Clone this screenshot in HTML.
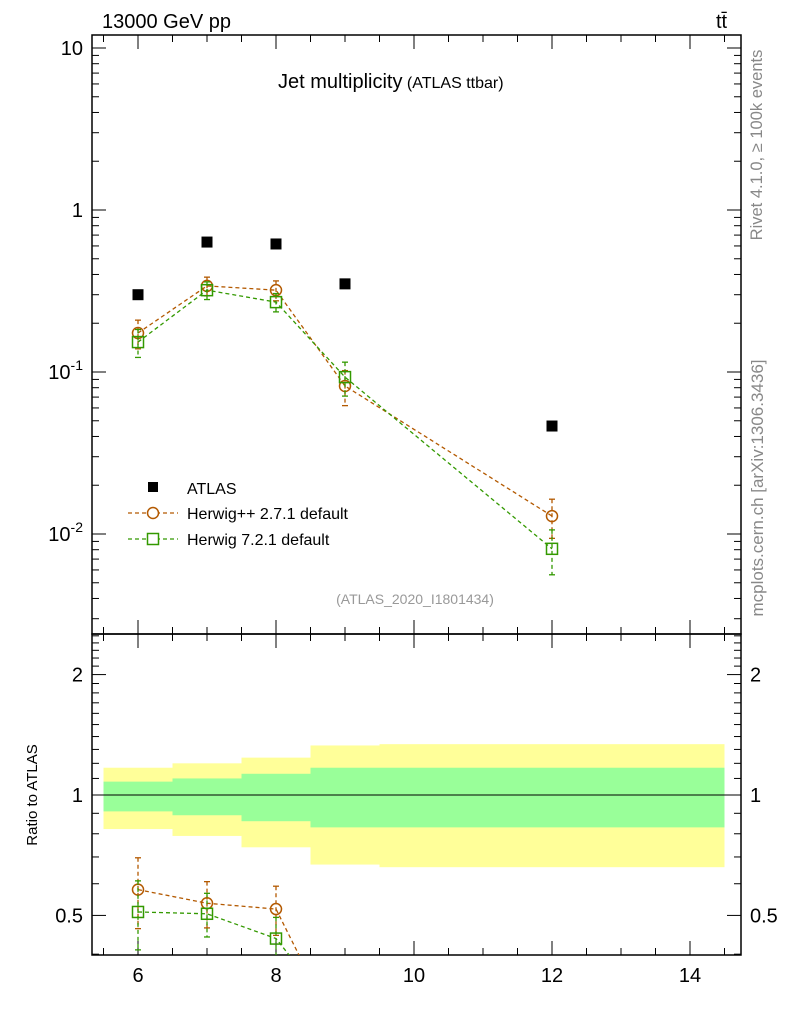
<!DOCTYPE html>
<html><head><meta charset="utf-8"><style>
html,body{margin:0;background:#fff;width:786px;height:1024px;overflow:hidden;}
svg{display:block;font-family:"Liberation Sans",sans-serif;}
</style></head><body>
<svg id="c" width="786" height="1024"></svg>
<script>
const cats=[6,7,8,9,12];
const atlas=[0.30,0.634,0.617,0.35,0.0464];
const hwpp=[0.174,0.34,0.32,0.082,0.0129];
const hwpp_err=[0.035,0.045,0.045,0.02,0.0035];
const hw7=[0.153,0.32,0.27,0.093,0.0081];
const hw7_err=[0.03,0.04,0.035,0.022,0.0025];
const binEdges=[5.5,6.5,7.5,8.5,9.5,14.5];
const yellowHi=[1.17,1.2,1.24,1.33,1.34];
const yellowLo=[0.822,0.79,0.74,0.67,0.66];
const greenHi=[1.08,1.10,1.13,1.17,1.17];
const greenLo=[0.91,0.89,0.86,0.83,0.83];
const xTicks=[6,8,10,12,14];
const mainTicks=[[10,"10"],[1,"1"],[0.1,"10^-1"],[0.01,"10^-2"]];
const ratioTicks=[0.5,1,2];

const NS="http://www.w3.org/2000/svg",svg=document.getElementById('c');
function el(t,a,p){const e=document.createElementNS(NS,t);for(const k in a)e.setAttribute(k,a[k]);(p||svg).appendChild(e);return e;}
const L=92,R=741,T=35,M=634,B=955;
const X=v=>138+(v-6)*69;
const Y=v=>210-Math.log10(v)*162;
const YR=v=>795-Math.log10(v)*400;

for(let i=0;i<5;i++){
 const x0=X(binEdges[i]),x1=X(binEdges[i+1]);
 let r=el('rect',{x:x0,y:YR(yellowHi[i]),width:x1-x0,height:YR(yellowLo[i])-YR(yellowHi[i]),fill:'#ffff99'});
 
 r=el('rect',{x:x0,y:YR(greenHi[i]),width:x1-x0,height:YR(greenLo[i])-YR(greenHi[i]),fill:'#99ff99'});
 
}
el('line',{x1:L,x2:R,y1:YR(1),y2:YR(1),stroke:'#000','stroke-width':1});

el('rect',{x:L,y:T,width:R-L,height:M-T,fill:'none',stroke:'#000','stroke-width':1.5});
el('rect',{x:L,y:M,width:R-L,height:B-M,fill:'none',stroke:'#000','stroke-width':1.5});

for(let v=5.5;v<=14.6;v+=0.5){
 const maj=Number.isInteger(v)&&v%2==0, len=maj?14:7;
 for(const [y0,dir] of [[M,-1],[B,-1],[T,1],[M,1]]){
  el('line',{x1:X(v),x2:X(v),y1:y0,y2:y0+dir*len,stroke:'#000'});
 }
}
xTicks.forEach(v=>{const t=el('text',{x:X(v),y:982,'font-size':20,'text-anchor':'middle'});t.textContent=v;
});

for(let d=-3;d<=1;d++)for(let m=1;m<10;m++){
 const v=m*Math.pow(10,d),y=Y(v);if(y<T||y>M)continue;
 const len=m==1?14:7;
 el('line',{x1:L,x2:L+len,y1:y,y2:y,stroke:'#000'});el('line',{x1:R,x2:R-len,y1:y,y2:y,stroke:'#000'});
}
mainTicks.forEach(([v,s])=>{const t=el('text',{x:83,y:Y(v)+7,'font-size':20,'text-anchor':'end'});
 if(s.includes('^')){const p=s.split('^');t.textContent=p[0];const ts=el('tspan',{dy:-9,'font-size':14},t);ts.textContent=p[1];}else t.textContent=s;
 });

for(let v=0.4;v<2.6;v+=0.1){const y=YR(v);if(y<M||y>B)continue;
 const maj=[0.5,1,2].some(q=>Math.abs(q-v)<1e-6),len=maj?14:7;
 el('line',{x1:L,x2:L+len,y1:y,y2:y,stroke:'#000'});el('line',{x1:R,x2:R-len,y1:y,y2:y,stroke:'#000'});}
ratioTicks.forEach(v=>{let t=el('text',{x:83,y:YR(v)+7,'font-size':20,'text-anchor':'end'});t.textContent=v;

t=el('text',{x:750,y:YR(v)+7,'font-size':20});t.textContent=v;
});

function series(vals,errs,col,shape,name,yf,clip){
 const g=el('g',{'clip-path':clip});
 const pts=cats.map((c,i)=>X(c)+','+yf(vals[i],i)).join(' ');
 el('polyline',{points:pts,fill:'none',stroke:col,'stroke-width':1.3,'stroke-dasharray':'4,3'},g);
 cats.forEach((c,i)=>{const x=X(c),y=yf(vals[i],i),y1=yf(vals[i]+errs[i],i),y2=yf(vals[i]-errs[i],i);
  el('line',{x1:x,x2:x,y1:y1,y2:y2,stroke:col,'stroke-width':1.3,'stroke-dasharray':'4,3'},g);
  el('line',{x1:x-3,x2:x+3,y1:y1,y2:y1,stroke:col,'stroke-width':1.3},g);
  el('line',{x1:x-3,x2:x+3,y1:y2,y2:y2,stroke:col,'stroke-width':1.3},g);
  const m=shape=='c'?el('circle',{cx:x,cy:y,r:5.5,fill:'none',stroke:col,'stroke-width':1.5},g):el('rect',{x:x-5.5,y:y-5.5,width:11,height:11,fill:'none',stroke:col,'stroke-width':1.5},g);
  });
}
const defs=el('defs',{});
el('rect',{x:L,y:T,width:R-L,height:M-T},el('clipPath',{id:'cm'},defs));
el('rect',{x:L,y:M,width:R-L,height:B-M},el('clipPath',{id:'cr'},defs));
series(hwpp,hwpp_err,'#b35900','c','herwigpp-series',v=>Y(v),'url(#cm)');
series(hw7,hw7_err,'#339900','s','herwig7-series',v=>Y(v),'url(#cm)');
series(hwpp.map((v,i)=>v/atlas[i]),hwpp_err.map((v,i)=>v/atlas[i]),'#b35900','c','herwigpp-ratio',v=>YR(v),'url(#cr)');
series(hw7.map((v,i)=>v/atlas[i]),hw7_err.map((v,i)=>v/atlas[i]),'#339900','s','herwig7-ratio',v=>YR(v),'url(#cr)');
cats.forEach((c,i)=>{const r=el('rect',{x:X(c)-5.5,y:Y(atlas[i])-5.5,width:11,height:11,fill:'#000'});
});

function tx(x,y,s,sz,attrs,name){const t=el('text',Object.assign({x:x,y:y,'font-size':sz},attrs||{}));t.textContent=s;return t;}
el('rect',{x:148,y:482,width:10,height:10,fill:'#000'});
tx(187,494,'ATLAS',16,{},'legend-atlas');
el('line',{x1:128,x2:178,y1:513,y2:513,stroke:'#b35900','stroke-dasharray':'4,3','stroke-width':1.3});
el('circle',{cx:153,cy:513,r:5.5,fill:'#fff',stroke:'#b35900','stroke-width':1.5});
tx(187,519,'Herwig++ 2.7.1 default',16,{},'legend-herwigpp');
el('line',{x1:128,x2:178,y1:539,y2:539,stroke:'#339900','stroke-dasharray':'4,3','stroke-width':1.3});
el('rect',{x:147.5,y:533.5,width:11,height:11,fill:'#fff',stroke:'#339900','stroke-width':1.5});
tx(187,545,'Herwig 7.2.1 default',16,{},'legend-herwig7');

tx(102,28,'13000 GeV pp',20,{},'beam-label');
tx(716,28,'tt̄',20,{},'process-label');
const ti=tx(278,88,'Jet multiplicity',20,{},'plot-title');const ts=el('tspan',{'font-size':16},ti);ts.textContent=' (ATLAS ttbar)';
tx(415,604,'(ATLAS_2020_I1801434)',14,{'text-anchor':'middle',fill:'#999'},'analysis-id');
tx(0,0,'Ratio to ATLAS',15,{transform:'translate(37,795) rotate(-90)','text-anchor':'middle'},'ratio-y-title');
tx(0,0,'Rivet 4.1.0, ≥ 100k events',16.5,{transform:'translate(762,145) rotate(-90)','text-anchor':'middle',fill:'#888'},'rivet-label');
tx(0,0,'mcplots.cern.ch [arXiv:1306.3436]',17,{transform:'translate(763,488) rotate(-90)','text-anchor':'middle',fill:'#888'},'mcplots-label');
</script>
</body></html>
